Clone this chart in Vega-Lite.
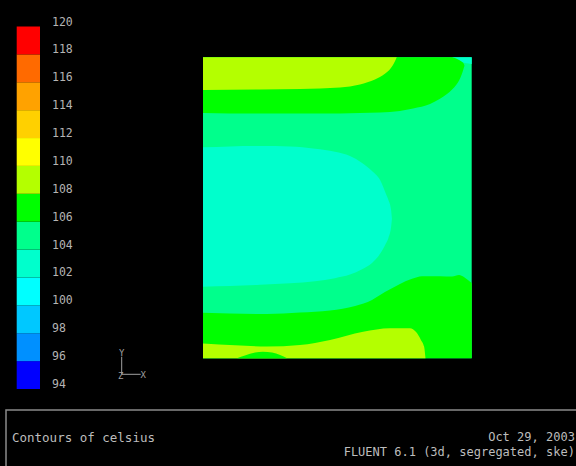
{
  "$schema": "https://vega.github.io/schema/vega-lite/v6.json",
  "width": 576,
  "height": 466,
  "autosize": {"type": "none"},
  "padding": 0,
  "background": "#000000",
  "config": {"view": {"stroke": null}},
  "datasets": {
    "bands": [
      {"lo": 94, "hi": 96}, {"lo": 96, "hi": 98}, {"lo": 98, "hi": 100}, {"lo": 100, "hi": 102},
      {"lo": 102, "hi": 104}, {"lo": 104, "hi": 106}, {"lo": 106, "hi": 108}, {"lo": 108, "hi": 110},
      {"lo": 110, "hi": 112}, {"lo": 112, "hi": 114}, {"lo": 114, "hi": 116}, {"lo": 116, "hi": 118},
      {"lo": 118, "hi": 120}
    ],
    "ticks": [
      {"v": 94}, {"v": 96}, {"v": 98}, {"v": 100}, {"v": 102}, {"v": 104}, {"v": 106},
      {"v": 108}, {"v": 110}, {"v": 112}, {"v": 114}, {"v": 116}, {"v": 118}, {"v": 120}
    ],
    "regions": [
      {"region": "base", "lo": 104, "x": 0, "top": 1, "bottom": 0},
      {"region": "base", "lo": 104, "x": 1, "top": 1, "bottom": 0},

      {"region": "patch", "lo": 102, "x": 0.927, "top": 1, "bottom": 0.999},
      {"region": "patch", "lo": 102, "x": 0.942, "top": 1, "bottom": 0.994},
      {"region": "patch", "lo": 102, "x": 0.957, "top": 1, "bottom": 0.988},
      {"region": "patch", "lo": 102, "x": 0.975, "top": 1, "bottom": 0.981},
      {"region": "patch", "lo": 102, "x": 1, "top": 1, "bottom": 0.978},

      {"region": "topgreen", "lo": 106, "x": 0, "top": 1, "bottom": 0.815},
      {"region": "topgreen", "lo": 106, "x": 0.212, "top": 1, "bottom": 0.813},
      {"region": "topgreen", "lo": 106, "x": 0.435, "top": 1, "bottom": 0.813},
      {"region": "topgreen", "lo": 106, "x": 0.584, "top": 1, "bottom": 0.815},
      {"region": "topgreen", "lo": 106, "x": 0.659, "top": 1, "bottom": 0.817},
      {"region": "topgreen", "lo": 106, "x": 0.733, "top": 1, "bottom": 0.822},
      {"region": "topgreen", "lo": 106, "x": 0.782, "top": 1, "bottom": 0.830},
      {"region": "topgreen", "lo": 106, "x": 0.845, "top": 1, "bottom": 0.845},
      {"region": "topgreen", "lo": 106, "x": 0.882, "top": 1, "bottom": 0.862},
      {"region": "topgreen", "lo": 106, "x": 0.908, "top": 1, "bottom": 0.878},
      {"region": "topgreen", "lo": 106, "x": 0.927, "top": 1, "bottom": 0.893},
      {"region": "topgreen", "lo": 106, "x": 0.942, "top": 0.996, "bottom": 0.908},
      {"region": "topgreen", "lo": 106, "x": 0.953, "top": 0.991, "bottom": 0.923},
      {"region": "topgreen", "lo": 106, "x": 0.962, "top": 0.986, "bottom": 0.941},
      {"region": "topgreen", "lo": 106, "x": 0.970, "top": 0.979, "bottom": 0.963},
      {"region": "topgreen", "lo": 106, "x": 0.973, "top": 0.973, "bottom": 0.971},

      {"region": "topyellow", "lo": 108, "x": 0, "top": 1, "bottom": 0.891},
      {"region": "topyellow", "lo": 108, "x": 0.212, "top": 1, "bottom": 0.893},
      {"region": "topyellow", "lo": 108, "x": 0.361, "top": 1, "bottom": 0.895},
      {"region": "topyellow", "lo": 108, "x": 0.510, "top": 1, "bottom": 0.900},
      {"region": "topyellow", "lo": 108, "x": 0.584, "top": 1, "bottom": 0.910},
      {"region": "topyellow", "lo": 108, "x": 0.640, "top": 1, "bottom": 0.926},
      {"region": "topyellow", "lo": 108, "x": 0.677, "top": 1, "bottom": 0.945},
      {"region": "topyellow", "lo": 108, "x": 0.700, "top": 1, "bottom": 0.965},
      {"region": "topyellow", "lo": 108, "x": 0.713, "top": 1, "bottom": 0.984},
      {"region": "topyellow", "lo": 108, "x": 0.721, "top": 1, "bottom": 1},

      {"region": "cyan", "lo": 102, "x": 0, "top": 0.701, "bottom": 0.238},
      {"region": "cyan", "lo": 102, "x": 0.1005, "top": 0.704, "bottom": 0.240},
      {"region": "cyan", "lo": 102, "x": 0.212, "top": 0.705, "bottom": 0.244},
      {"region": "cyan", "lo": 102, "x": 0.324, "top": 0.704, "bottom": 0.249},
      {"region": "cyan", "lo": 102, "x": 0.417, "top": 0.696, "bottom": 0.256},
      {"region": "cyan", "lo": 102, "x": 0.491, "top": 0.686, "bottom": 0.266},
      {"region": "cyan", "lo": 102, "x": 0.547, "top": 0.672, "bottom": 0.278},
      {"region": "cyan", "lo": 102, "x": 0.592, "top": 0.649, "bottom": 0.296},
      {"region": "cyan", "lo": 102, "x": 0.629, "top": 0.622, "bottom": 0.317},
      {"region": "cyan", "lo": 102, "x": 0.659, "top": 0.592, "bottom": 0.347},
      {"region": "cyan", "lo": 102, "x": 0.681, "top": 0.546, "bottom": 0.382},
      {"region": "cyan", "lo": 102, "x": 0.690, "top": 0.526, "bottom": 0.400},
      {"region": "cyan", "lo": 102, "x": 0.700, "top": 0.493, "bottom": 0.436},
      {"region": "cyan", "lo": 102, "x": 0.703, "top": 0.465, "bottom": 0.463},

      {"region": "bottomgreen", "lo": 106, "x": 0, "top": 0.151, "bottom": 0},
      {"region": "bottomgreen", "lo": 106, "x": 0.238, "top": 0.147, "bottom": 0},
      {"region": "bottomgreen", "lo": 106, "x": 0.361, "top": 0.152, "bottom": 0},
      {"region": "bottomgreen", "lo": 106, "x": 0.473, "top": 0.159, "bottom": 0},
      {"region": "bottomgreen", "lo": 106, "x": 0.566, "top": 0.174, "bottom": 0},
      {"region": "bottomgreen", "lo": 106, "x": 0.629, "top": 0.194, "bottom": 0},
      {"region": "bottomgreen", "lo": 106, "x": 0.677, "top": 0.220, "bottom": 0},
      {"region": "bottomgreen", "lo": 106, "x": 0.733, "top": 0.247, "bottom": 0},
      {"region": "bottomgreen", "lo": 106, "x": 0.778, "top": 0.264, "bottom": 0},
      {"region": "bottomgreen", "lo": 106, "x": 0.815, "top": 0.273, "bottom": 0},
      {"region": "bottomgreen", "lo": 106, "x": 0.882, "top": 0.273, "bottom": 0},
      {"region": "bottomgreen", "lo": 106, "x": 0.927, "top": 0.272, "bottom": 0},
      {"region": "bottomgreen", "lo": 106, "x": 0.953, "top": 0.277, "bottom": 0},
      {"region": "bottomgreen", "lo": 106, "x": 0.971, "top": 0.270, "bottom": 0},
      {"region": "bottomgreen", "lo": 106, "x": 0.986, "top": 0.260, "bottom": 0},
      {"region": "bottomgreen", "lo": 106, "x": 1, "top": 0.250, "bottom": 0},

      {"region": "bottomyellow", "lo": 108, "x": 0, "top": 0.049, "bottom": 0},
      {"region": "bottomyellow", "lo": 108, "x": 0.119, "top": 0.043, "bottom": 0},
      {"region": "bottomyellow", "lo": 108, "x": 0.238, "top": 0.039, "bottom": 0},
      {"region": "bottomyellow", "lo": 108, "x": 0.361, "top": 0.044, "bottom": 0},
      {"region": "bottomyellow", "lo": 108, "x": 0.473, "top": 0.061, "bottom": 0},
      {"region": "bottomyellow", "lo": 108, "x": 0.596, "top": 0.088, "bottom": 0},
      {"region": "bottomyellow", "lo": 108, "x": 0.696, "top": 0.100, "bottom": 0},
      {"region": "bottomyellow", "lo": 108, "x": 0.770, "top": 0.100, "bottom": 0},
      {"region": "bottomyellow", "lo": 108, "x": 0.793, "top": 0.087, "bottom": 0},
      {"region": "bottomyellow", "lo": 108, "x": 0.811, "top": 0.061, "bottom": 0},
      {"region": "bottomyellow", "lo": 108, "x": 0.823, "top": 0.038, "bottom": 0},
      {"region": "bottomyellow", "lo": 108, "x": 0.828, "top": 0, "bottom": 0},

      {"region": "bump", "lo": 106, "x": 0.1265, "top": 0, "bottom": 0},
      {"region": "bump", "lo": 106, "x": 0.156, "top": 0.009, "bottom": 0},
      {"region": "bump", "lo": 106, "x": 0.194, "top": 0.019, "bottom": 0},
      {"region": "bump", "lo": 106, "x": 0.223, "top": 0.022, "bottom": 0},
      {"region": "bump", "lo": 106, "x": 0.257, "top": 0.019, "bottom": 0},
      {"region": "bump", "lo": 106, "x": 0.287, "top": 0.011, "bottom": 0},
      {"region": "bump", "lo": 106, "x": 0.313, "top": 0, "bottom": 0}
    ]
  },
  "resolve": {"scale": {"x": "independent", "y": "independent"}},
  "layer": [
    {
      "data": {"name": "bands"},
      "layer": [
        {
          "mark": {"type": "rect"},
          "encoding": {
            "x": {"datum": 0, "type": "quantitative", "scale": {"domain": [0, 1], "range": [16.7, 40], "nice": false, "zero": false}, "axis": null},
            "x2": {"datum": 1},
            "y": {"field": "lo", "type": "quantitative", "scale": {"domain": [94, 120], "range": [389, 26.5], "nice": false, "zero": false}, "axis": null},
            "y2": {"field": "hi"},
            "color": {
              "field": "lo", "type": "ordinal", "legend": null,
              "scale": {
                "domain": [94, 96, 98, 100, 102, 104, 106, 108, 110, 112, 114, 116, 118],
                "range": ["#0000ff", "#0090ff", "#00c8ff", "#00ffff", "#00ffcc", "#00ff8c", "#00ff00", "#b4ff00", "#ffff00", "#ffd000", "#ffa200", "#ff6a00", "#ff0000"]
              }
            }
          }
        },
        {
          "data": {"name": "ticks"},
          "mark": {"type": "text", "align": "left", "baseline": "middle", "dy": -4, "font": "DejaVu Sans Mono", "fontSize": 11.5, "color": "#b4b4b4"},
          "encoding": {
            "x": {"datum": 1.515, "type": "quantitative"},
            "y": {"field": "v", "type": "quantitative"},
            "text": {"field": "v", "type": "quantitative", "format": "d"}
          }
        }
      ]
    },
    {
      "data": {"name": "regions"},
      "layer": [
        {"transform": [{"filter": "datum.region === 'base'"}],
         "mark": {"type": "area", "orient": "vertical"},
         "encoding": {
           "x": {"field": "x", "type": "quantitative", "scale": {"domain": [0, 1], "range": [203, 471.7], "nice": false, "zero": false}, "axis": null},
           "y": {"field": "top", "type": "quantitative", "stack": null, "scale": {"domain": [0, 1], "range": [358.3, 57.3], "nice": false, "zero": false}, "axis": null},
           "y2": {"field": "bottom"},
           "color": {"field": "lo", "type": "ordinal", "legend": null}
         }},
        {"transform": [{"filter": "datum.region === 'patch'"}],
         "mark": {"type": "area", "orient": "vertical", "interpolate": "monotone"},
         "encoding": {
           "x": {"field": "x", "type": "quantitative"},
           "y": {"field": "top", "type": "quantitative", "stack": null},
           "y2": {"field": "bottom"},
           "color": {"field": "lo", "type": "ordinal", "legend": null}
         }},
        {"transform": [{"filter": "datum.region === 'topgreen'"}],
         "mark": {"type": "area", "orient": "vertical", "interpolate": "monotone"},
         "encoding": {
           "x": {"field": "x", "type": "quantitative"},
           "y": {"field": "top", "type": "quantitative", "stack": null},
           "y2": {"field": "bottom"},
           "color": {"field": "lo", "type": "ordinal", "legend": null}
         }},
        {"transform": [{"filter": "datum.region === 'topyellow'"}],
         "mark": {"type": "area", "orient": "vertical", "interpolate": "monotone"},
         "encoding": {
           "x": {"field": "x", "type": "quantitative"},
           "y": {"field": "top", "type": "quantitative", "stack": null},
           "y2": {"field": "bottom"},
           "color": {"field": "lo", "type": "ordinal", "legend": null}
         }},
        {"transform": [{"filter": "datum.region === 'cyan'"}],
         "mark": {"type": "area", "orient": "vertical", "interpolate": "monotone"},
         "encoding": {
           "x": {"field": "x", "type": "quantitative"},
           "y": {"field": "top", "type": "quantitative", "stack": null},
           "y2": {"field": "bottom"},
           "color": {"field": "lo", "type": "ordinal", "legend": null}
         }},
        {"transform": [{"filter": "datum.region === 'bottomgreen'"}],
         "mark": {"type": "area", "orient": "vertical", "interpolate": "monotone"},
         "encoding": {
           "x": {"field": "x", "type": "quantitative"},
           "y": {"field": "top", "type": "quantitative", "stack": null},
           "y2": {"field": "bottom"},
           "color": {"field": "lo", "type": "ordinal", "legend": null}
         }},
        {"transform": [{"filter": "datum.region === 'bottomyellow'"}],
         "mark": {"type": "area", "orient": "vertical", "interpolate": "monotone"},
         "encoding": {
           "x": {"field": "x", "type": "quantitative"},
           "y": {"field": "top", "type": "quantitative", "stack": null},
           "y2": {"field": "bottom"},
           "color": {"field": "lo", "type": "ordinal", "legend": null}
         }},
        {"transform": [{"filter": "datum.region === 'bump'"}],
         "mark": {"type": "area", "orient": "vertical", "interpolate": "monotone"},
         "encoding": {
           "x": {"field": "x", "type": "quantitative"},
           "y": {"field": "top", "type": "quantitative", "stack": null},
           "y2": {"field": "bottom"},
           "color": {"field": "lo", "type": "ordinal", "legend": null}
         }}
      ]
    },
    {
      "data": {"values": [{}]},
      "layer": [
        {"mark": {"type": "rule", "color": "#a0a0a0", "strokeWidth": 1},
         "encoding": {
           "x": {"datum": 0, "type": "quantitative", "scale": {"domain": [0, 1], "range": [121.7, 140.7], "nice": false, "zero": false}, "axis": null},
           "y": {"datum": 0, "type": "quantitative", "scale": {"domain": [0, 1], "range": [374.3, 356.7], "nice": false, "zero": false}, "axis": null},
           "y2": {"datum": 1}
         }},
        {"mark": {"type": "rule", "color": "#a0a0a0", "strokeWidth": 1},
         "encoding": {
           "x": {"datum": 0, "type": "quantitative"},
           "x2": {"datum": 1},
           "y": {"datum": 0, "type": "quantitative"}
         }},
        {"mark": {"type": "text", "text": "Y", "font": "DejaVu Sans Mono", "fontSize": 9, "color": "#a0a0a0", "align": "center", "baseline": "middle"},
         "encoding": {"x": {"datum": 0, "type": "quantitative"}, "y": {"datum": 1.19, "type": "quantitative"}}},
        {"mark": {"type": "text", "text": "X", "font": "DejaVu Sans Mono", "fontSize": 9, "color": "#a0a0a0", "align": "center", "baseline": "middle"},
         "encoding": {"x": {"datum": 1.137, "type": "quantitative"}, "y": {"datum": -0.04, "type": "quantitative"}}},
        {"mark": {"type": "text", "text": "Z", "font": "DejaVu Sans Mono", "fontSize": 9, "color": "#a0a0a0", "align": "center", "baseline": "middle"},
         "encoding": {"x": {"datum": -0.05, "type": "quantitative"}, "y": {"datum": -0.1, "type": "quantitative"}}}
      ]
    },
    {
      "data": {"values": [{}]},
      "layer": [
        {"mark": {"type": "rect", "fill": "#000000", "stroke": "#8a8a8a", "strokeWidth": 1.5},
         "encoding": {
           "x": {"datum": 0, "type": "quantitative", "scale": {"domain": [0, 1], "range": [6, 576], "nice": false, "zero": false}, "axis": null},
           "x2": {"datum": 1.05},
           "y": {"datum": 0, "type": "quantitative", "scale": {"domain": [0, 1], "range": [410, 466], "nice": false, "zero": false}, "axis": null},
           "y2": {"datum": 1.2}
         }},
        {"mark": {"type": "text", "text": "Contours of celsius", "font": "DejaVu Sans Mono", "fontSize": 12.5, "color": "#bdbdbd", "align": "left", "baseline": "middle"},
         "encoding": {"x": {"datum": 0.0105, "type": "quantitative"}, "y": {"datum": 0.5, "type": "quantitative"}}},
        {"mark": {"type": "text", "text": "Oct 29, 2003", "font": "DejaVu Sans Mono", "fontSize": 12, "color": "#bdbdbd", "align": "right", "baseline": "middle"},
         "encoding": {"x": {"datum": 0.998, "type": "quantitative"}, "y": {"datum": 0.49, "type": "quantitative"}}},
        {"mark": {"type": "text", "text": "FLUENT 6.1 (3d, segregated, ske)", "font": "DejaVu Sans Mono", "fontSize": 12, "color": "#bdbdbd", "align": "right", "baseline": "middle"},
         "encoding": {"x": {"datum": 0.998, "type": "quantitative"}, "y": {"datum": 0.755, "type": "quantitative"}}}
      ]
    }
  ]
}
